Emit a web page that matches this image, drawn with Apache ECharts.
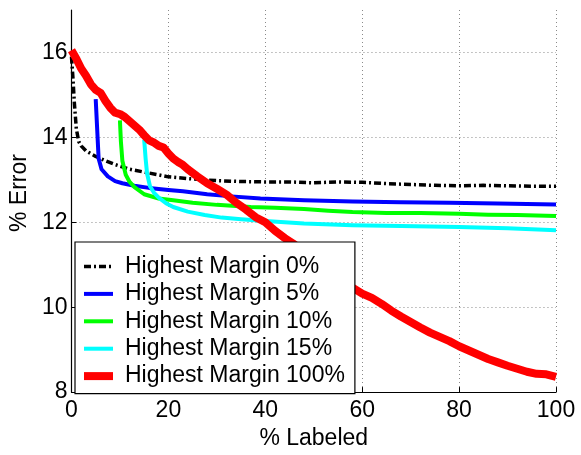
<!DOCTYPE html>
<html>
<head>
<meta charset="utf-8">
<script src="https://cdn.jsdelivr.net/npm/echarts@6/dist/echarts.min.js"></script>
<style>
html,body{margin:0;padding:0;background:#fff;}
#c{width:581px;height:455px;}
</style>
</head>
<body>
<div id="c"></div>
<script>
// ---- data ----
var seriesNames = ['Highest Margin 0%', 'Highest Margin 5%', 'Highest Margin 10%', 'Highest Margin 15%', 'Highest Margin 100%'];
var xTicks = [0, 20, 40, 60, 80, 100];
var yTicks = [8, 10, 12, 14, 16];

var m0X = [0, 0.3, 0.6, 1, 1.5, 2, 3, 5, 7, 9, 12, 16, 20, 25, 30, 35, 40, 45, 50, 55, 60, 65, 70, 75, 80, 85, 90, 95, 100];
var m0Y = [15.9, 15.4, 14.8, 14.2, 13.9, 13.8, 13.68, 13.55, 13.45, 13.36, 13.25, 13.16, 13.07, 13.02, 12.98, 12.96, 12.95, 12.95, 12.93, 12.95, 12.94, 12.91, 12.89, 12.87, 12.86, 12.87, 12.86, 12.85, 12.85];

var m5X = [5, 5.3, 5.6, 6.2, 7.5, 9, 10.5, 13, 16, 20, 23, 28, 33, 39, 48, 58, 68, 78, 88, 100];
var m5Y = [14.9, 14.2, 13.5, 13.25, 13.08, 12.97, 12.92, 12.86, 12.81, 12.76, 12.73, 12.66, 12.61, 12.56, 12.52, 12.49, 12.47, 12.46, 12.44, 12.42];

var m10X = [10, 10.2, 10.5, 11.2, 12, 13, 15, 18, 21, 25, 30, 37, 42, 48, 53, 58, 65, 72, 80, 86, 92, 100];
var m10Y = [14.4, 13.9, 13.45, 13.12, 12.95, 12.83, 12.66, 12.56, 12.52, 12.46, 12.41, 12.36, 12.34, 12.31, 12.27, 12.24, 12.22, 12.22, 12.2, 12.18, 12.17, 12.15];

var m15X = [15, 15.3, 15.6, 16.2, 17, 18, 19.5, 21, 24, 27.5, 31, 35, 40, 48, 58, 68, 80, 90, 100];
var m15Y = [13.95, 13.5, 13.15, 12.85, 12.7, 12.58, 12.45, 12.36, 12.25, 12.17, 12.11, 12.07, 12.03, 11.97, 11.93, 11.91, 11.89, 11.86, 11.81];

var m100X = [0, 1, 2, 3, 4, 5, 6, 7, 8, 9, 10, 11, 12, 13, 14, 15, 16, 17, 18, 19, 20, 21, 22, 23, 24, 26, 28, 30, 32, 34, 36, 38, 40, 42, 44, 46, 48, 50, 52, 54, 56, 58, 60, 62, 64, 66, 68, 70, 72, 74, 76, 78, 80, 82, 84, 86, 88, 90, 92, 94, 96, 98, 100];
var m100Y = [16.05, 15.85, 15.62, 15.45, 15.25, 15.12, 15.05, 14.86, 14.7, 14.58, 14.55, 14.48, 14.38, 14.28, 14.18, 14.05, 13.93, 13.88, 13.8, 13.76, 13.62, 13.5, 13.42, 13.35, 13.25, 13.08, 12.92, 12.79, 12.65, 12.46, 12.3, 12.12, 12.0, 11.8, 11.63, 11.48, 11.3, 11.13, 10.95, 10.8, 10.62, 10.46, 10.32, 10.22, 10.08, 9.92, 9.78, 9.65, 9.52, 9.4, 9.3, 9.2, 9.08, 8.98, 8.88, 8.78, 8.7, 8.62, 8.55, 8.48, 8.43, 8.42, 8.36];

function zip(xs, ys) { return xs.map(function (x, i) { return [x, ys[i]]; }); }

var FONT = 'Liberation Sans, Arial, Helvetica, sans-serif';
var FS = 23;
var chart = echarts.init(document.getElementById('c'), null, { renderer: 'canvas' });

function mk(name, xs, ys, color, width, type) {
  return {
    name: name, type: 'line', data: zip(xs, ys), symbol: 'none', smooth: false,
    animation: false,
    lineStyle: { color: color, width: width, type: type || 'solid', cap: 'butt', join: 'round' },
    itemStyle: { color: color }
  };
}

chart.setOption({
  backgroundColor: '#fff',
  animation: false,
  grid: { left: 69, top: 10, width: 487, height: 382.5, containLabel: false },
  xAxis: {
    type: 'value', min: 0, max: 100, interval: 20,
    name: '% Labeled', nameLocation: 'middle', nameGap: 29,
    nameTextStyle: { color: '#000', fontSize: FS, fontFamily: FONT },
    axisLine: { show: true, lineStyle: { color: '#000', width: 1.2 } },
    axisTick: { show: true, inside: true, length: 5, lineStyle: { color: '#000', width: 1 } },
    axisLabel: { color: '#000', fontSize: FS, fontFamily: FONT, margin: 7,
      formatter: function (v) { return xTicks.indexOf(v) >= 0 ? String(v) : ''; } },
    splitLine: { show: true, showMinLine: false, lineStyle: { color: '#8a8a8a', width: 1, type: [1, 3] } }
  },
  yAxis: {
    type: 'value', min: 8, max: 17, interval: 2,
    name: '% Error', nameLocation: 'middle', nameGap: 37,
    nameTextStyle: { color: '#000', fontSize: FS, fontFamily: FONT, padding: [0, 0, 0, 16] },
    axisLine: { show: true, lineStyle: { color: '#000', width: 1.2 } },
    axisTick: { show: true, inside: true, length: 5, lineStyle: { color: '#000', width: 1 } },
    axisLabel: { color: '#000', fontSize: FS, fontFamily: FONT, margin: 4, showMaxLabel: false,
      formatter: function (v) { return yTicks.indexOf(v) >= 0 ? String(v) : ''; } },
    splitLine: { show: true, showMinLine: false, showMaxLine: false, lineStyle: { color: '#8a8a8a', width: 1, type: [1, 3] } }
  },
  legend: {
    orient: 'vertical', left: 75, top: 242,
    backgroundColor: '#fff', borderColor: '#000', borderWidth: 1.2,
    padding: [13, 10, 6, 5],
    itemWidth: 29, itemHeight: 10, itemGap: 4.4,
    itemStyle: { opacity: 0, borderWidth: 0 },
    lineStyle: { width: 'inherit', type: 'inherit' },
    textStyle: { color: '#000', fontSize: FS, fontFamily: FONT, lineHeight: 20, padding: [0, 0, 0, 7] },
    data: seriesNames
  },
  series: [
    mk(seriesNames[0], m0X, m0Y, '#000000', 3.5, [7, 3, 2, 3]),
    mk(seriesNames[1], m5X, m5Y, '#0000ff', 4),
    mk(seriesNames[2], m10X, m10Y, '#00ff00', 4),
    mk(seriesNames[3], m15X, m15Y, '#00ffff', 4),
    mk(seriesNames[4], m100X, m100Y, '#ff0000', 8)
  ]
});
</script>
</body>
</html>
